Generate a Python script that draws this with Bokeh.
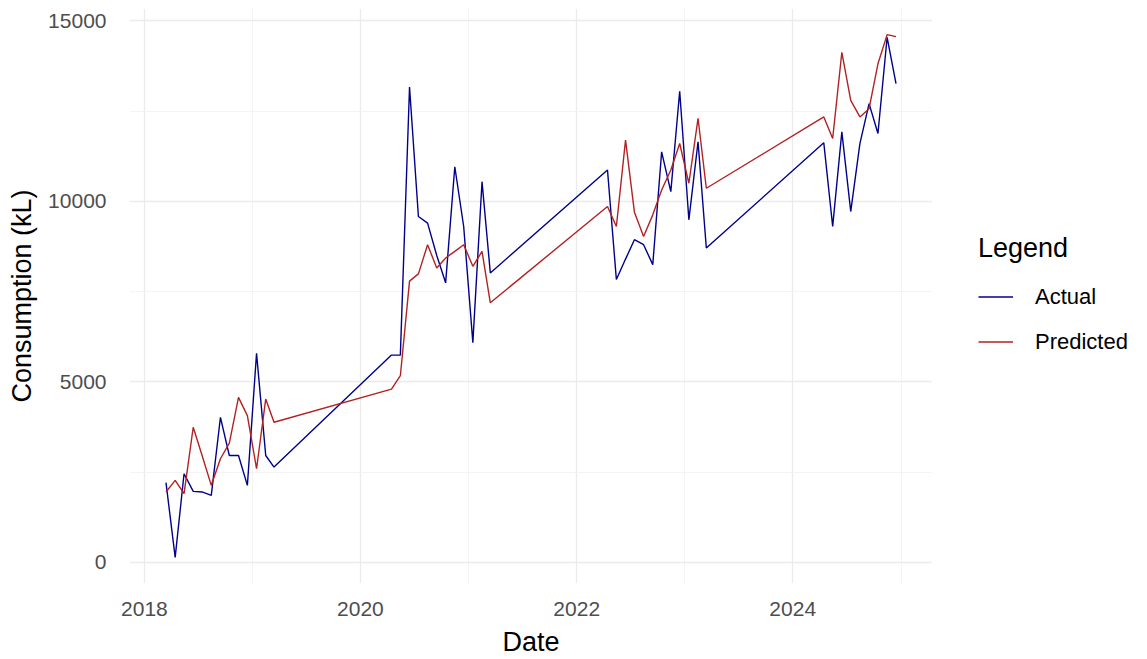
import pandas as pd
from bokeh.plotting import figure
from bokeh.layouts import row
from bokeh.models import (Range1d, FixedTicker, Legend, LegendItem,
                          DatetimeTickFormatter, NumeralTickFormatter)
from bokeh.embed import file_html
from bokeh.resources import INLINE

# ---- data (monthly, fiscal-year blocks) ----
months = [
    "2018-03", "2018-04", "2018-05", "2018-06", "2018-07", "2018-08", "2018-09",
    "2018-10", "2018-11", "2018-12", "2019-01", "2019-02", "2019-03",
    "2020-04", "2020-05", "2020-06", "2020-07", "2020-08", "2020-09", "2020-10",
    "2020-11", "2020-12", "2021-01", "2021-02", "2021-03",
    "2022-04", "2022-05", "2022-06", "2022-07", "2022-08", "2022-09", "2022-10",
    "2022-11", "2022-12", "2023-01", "2023-02", "2023-03",
    "2024-04", "2024-05", "2024-06", "2024-07", "2024-08", "2024-09", "2024-10",
    "2024-11", "2024-12",
]
actual = [
    2206, 138, 2455, 1967, 1950, 1857, 4018, 2960, 2960, 2133, 5790, 2960, 2640,
    5740, 5740, 13165, 9579, 9396, 8500, 7742, 10958, 9303, 6087, 10544, 8017,
    10867, 7833, 8400, 8936, 8798, 8246, 11371, 10268, 13050, 9488, 11650, 8707,
    11620, 9303, 11923, 9717, 11600, 12706, 11878, 14543, 13258,
]
predicted = [
    1950, 2270, 1903, 3742, 2960, 2133, 2870, 3300, 4570, 4063, 2593, 4523, 3880,
    4800, 5170, 7790, 7990, 8798, 8155, 8431, 8614, 8798, 8200, 8614, 7190,
    9855, 9303, 11694, 9700, 9027, 9625, 10315, 10867, 11602, 10500, 12300, 10362,
    12337, 11740, 14129, 12797, 12337, 12567, 13809, 14617, 14562,
]
series_names = ["Actual", "Predicted"]
series_colors = ["#00008B", "#B22222"]
x_major = ["2018-01-01", "2020-01-01", "2022-01-01", "2024-01-01"]
x_minor = ["2019-01-01", "2021-01-01", "2023-01-01", "2025-01-01"]
y_major = [0, 5000, 10000, 15000]
y_minor = [2500, 7500, 12500]

dates = pd.to_datetime([m + "-15" for m in months])

def ms(s):
    return pd.Timestamp(s).value / 1e6

# ggplot-style 5% expansion
t0, t1 = dates.min(), dates.max()
pad_t = (t1 - t0) * 0.05
vmin = min(min(actual), min(predicted))
vmax = max(max(actual), max(predicted))
pad_v = (vmax - vmin) * 0.05

FONT = "Liberation Sans"

p = figure(width=932, height=659, x_axis_type="datetime",
           output_backend="svg", toolbar_location=None,
           x_range=Range1d(t0 - pad_t, t1 + pad_t),
           y_range=Range1d(vmin - pad_v, vmax + pad_v),
           min_border_left=129, min_border_right=0,
           min_border_top=8, min_border_bottom=74)
p.outline_line_color = None
p.background_fill_color = "white"

xt = FixedTicker(ticks=[ms(s) for s in x_major], minor_ticks=[ms(s) for s in x_minor])
yt = FixedTicker(ticks=y_major, minor_ticks=y_minor)
p.xaxis.ticker = xt
p.xgrid.ticker = xt
p.yaxis.ticker = yt
p.ygrid.ticker = yt
p.xaxis.formatter = DatetimeTickFormatter(years="%Y", months="%Y", days="%Y")
p.yaxis.formatter = NumeralTickFormatter(format="0")

for g in (p.xgrid, p.ygrid):
    g.grid_line_color = "#EBEBEB"
    g.grid_line_width = 1.3
    g.minor_grid_line_color = "#EFEFEF"
    g.minor_grid_line_width = 0.7

for ax in (p.xaxis, p.yaxis):
    ax.axis_line_color = None
    ax.major_tick_line_color = None
    ax.minor_tick_line_color = None
    ax.major_label_text_font = FONT
    ax.major_label_text_font_size = "21px"
    ax.major_label_text_color = "#4D4D4D"
    ax.axis_label_text_font = FONT
    ax.axis_label_text_font_size = "27px"
    ax.axis_label_text_font_style = "normal"
    ax.axis_label_text_color = "black"

p.xaxis.axis_label = "Date"
p.yaxis.axis_label = "Consumption (kL)"
p.xaxis.major_label_standoff = 12
p.xaxis.axis_label_standoff = 8
p.yaxis.major_label_standoff = 17
p.yaxis.axis_label_standoff = 8

p.line(dates, actual, line_color=series_colors[0], line_width=1.4)
p.line(dates, predicted, line_color=series_colors[1], line_width=1.4)

# ---- legend panel (ggplot-style legend to the right of the panel) ----
# The same series are drawn here but lie far outside this panel's 0..1 range,
# so only their legend keys show.
q = figure(width=215, height=659, output_backend="svg", toolbar_location=None,
           x_range=Range1d(0, 1), y_range=Range1d(0, 1),
           x_axis_location=None, y_axis_location=None,
           min_border_left=0, min_border_right=0,
           min_border_top=0, min_border_bottom=0)
q.outline_line_color = None
q.xgrid.visible = False
q.ygrid.visible = False

xs_ms = [d.value / 1e6 for d in dates]
keys = [q.line(x=xs_ms, y=vals, line_color=c, line_width=1.4)
        for vals, c in zip([actual, predicted], series_colors)]

legend = Legend(
    title="Legend",
    items=[LegendItem(label=n, renderers=[r]) for n, r in zip(series_names, keys)],
    location=(46, 219),
    padding=0, margin=0, spacing=0,
    glyph_width=35, glyph_height=45, label_height=45, label_standoff=22,
    border_line_color=None, background_fill_alpha=0,
    title_text_font=FONT, title_text_font_size="27px",
    title_text_font_style="normal", title_text_color="black",
    title_standoff=10,
    label_text_font=FONT, label_text_font_size="22px", label_text_color="black",
)
q.add_layout(legend)

layout = row(p, q, spacing=0)
open("out.html", "w").write(file_html(layout, INLINE))
